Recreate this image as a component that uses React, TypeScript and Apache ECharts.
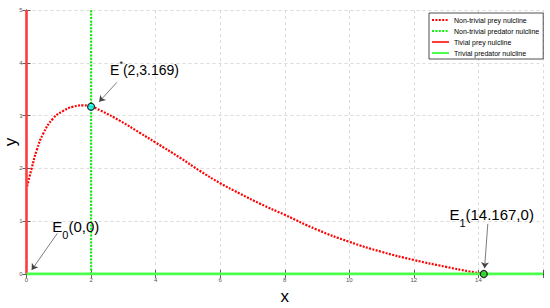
import React, { useEffect, useRef } from "react";
import * as echarts from "echarts";

// Non-trivial prey nullcline
const preyX = [0.02, 0.16, 0.32, 0.52, 0.83, 1.14, 1.45, 1.76, 2.0, 2.28, 2.9, 3.52, 4.0, 4.76, 5.38, 6.0, 6.62, 7.24, 8.0, 9.0, 10, 11, 12, 13, 13.7, 14.167];
const preyY = [1.66, 2.0, 2.35, 2.66, 2.95, 3.09, 3.17, 3.195, 3.169, 3.1, 2.9, 2.67, 2.49, 2.2, 1.95, 1.72, 1.52, 1.33, 1.12, 0.84, 0.61, 0.42, 0.265, 0.135, 0.05, 0];

// Non-trivial predator nullcline x = 2
const predX = [2, 2];
const predY = [0, 5];
// Trivial prey nullcline x = 0
const trivPreyX = [0, 0];
const trivPreyY = [0, 5];
// Trivial predator nullcline y = 0
const trivPredX = [0, 16];
const trivPredY = [0, 0];

// Equilibria markers
const eqX = [2, 14.167];
const eqY = [3.169, 0];
const eqColors = ["#00ffff", "#22cc22"];

// Annotation texts and arrows
const labelTexts = ["{m|E}{sup|*}{m|(2,3.169)}", "{m|E}{sub|0}{m|(0,0)}", "{m|E}{sub|1}{m|(14.167,0)}"];
const labelX = [2.59, 0.8, 13.1];
const labelY = [3.86, 0.905, 1.123];
const arrowFromX = [2.8, 0.955, 14.29];
const arrowFromY = [3.63, 0.77, 0.95];
const arrowToX = [2.25, 0.16, 14.19];
const arrowToY = [3.26, 0.076, 0.11];

const legendNames = ["Non-trivial prey nulcline", "Non-trivial predator nulcline", "Tivial prey nulcline", "Trivial predator nulcline"];
const seriesColors = ["#ff0000", "#11ee11", "#ff3b3b", "#4dff4d"];

const FONT = "'Liberation Sans', Arial, Helvetica, sans-serif";

const zip = (xs: number[], ys: number[]) => xs.map((x, i) => [x, ys[i]]);

export default function App() {
  const ref = useRef<HTMLDivElement>(null);
  useEffect(() => {
    if (!ref.current) return;
    const chart = echarts.init(ref.current, undefined, { renderer: "svg" });
    const gridLine = { show: true, lineStyle: { color: "#d2d2d2", type: [3, 3], width: 0.8 } };
    const axisLineStyle = { show: true, lineStyle: { color: "#222", width: 0.8 } };
    const tick = { show: true, inside: true, length: 4, lineStyle: { color: "#333", width: 0.8 } };
    const option: any = {
      animation: false,
      backgroundColor: "#fff",
      grid: { left: 26.5, right: 7, top: 10, bottom: 34, containLabel: false, outerBoundsMode: "none" },
      xAxis: [
        {
          type: "value", min: 0, max: 16, interval: 2, position: "bottom",
          axisLine: axisLineStyle, axisTick: tick,
          axisLabel: { fontSize: 6, color: "#555", margin: 3, fontFamily: FONT, formatter: (v: number) => (v === 16 ? "" : String(v)) },
          splitLine: gridLine,
          name: "x", nameLocation: "middle", nameGap: 12,
          nameTextStyle: { fontSize: 17, fontFamily: FONT, color: "#000" },
        },
        {
          type: "value", min: 0, max: 16, interval: 2, position: "top",
          axisLine: axisLineStyle, axisTick: tick, axisLabel: { show: false }, splitLine: { show: false },
        },
      ],
      yAxis: [
        {
          type: "value", min: 0, max: 5, interval: 1, position: "left",
          axisLine: axisLineStyle, axisTick: tick,
          axisLabel: { fontSize: 6, color: "#555", margin: 4, fontFamily: FONT },
          splitLine: gridLine,
          name: "y", nameLocation: "middle", nameGap: 8, nameMoveOverlap: false,
          nameTextStyle: { fontSize: 17, fontFamily: FONT, color: "#000" },
        },
        {
          type: "value", min: 0, max: 5, interval: 1, position: "right",
          axisLine: axisLineStyle, axisTick: tick, axisLabel: { show: false }, splitLine: { show: false },
        },
      ],
      legend: {
        data: legendNames,
        orient: "vertical",
        left: 429, top: 13,
        itemWidth: 17, itemHeight: 8, itemGap: 3,
        padding: [3, 4, 2, 2],
        borderColor: "#222", borderWidth: 0.8, backgroundColor: "#fff",
        itemStyle: { opacity: 0 },
        textStyle: { fontSize: 7, fontFamily: FONT, color: "#000", lineHeight: 8 },
      },
      series: [
        {
          name: legendNames[0], type: "line", data: zip(preyX, preyY), smooth: true, symbol: "none",
          itemStyle: { color: seriesColors[0] },
          lineStyle: { color: seriesColors[0], width: 2.2, type: [2, 1.4], cap: "butt" }, z: 3,
        },
        {
          name: legendNames[1], type: "line", data: zip(predX, predY), symbol: "none",
          itemStyle: { color: seriesColors[1] },
          lineStyle: { color: seriesColors[1], width: 2.2, type: [2, 1.4], cap: "butt" }, z: 3,
        },
        {
          name: legendNames[2], type: "line", data: zip(trivPreyX, trivPreyY), symbol: "none",
          itemStyle: { color: seriesColors[2] },
          lineStyle: { color: seriesColors[2], width: 2.6, type: "solid" }, z: 4,
        },
        {
          name: legendNames[3], type: "line", data: zip(trivPredX, trivPredY), symbol: "none",
          itemStyle: { color: seriesColors[3] },
          lineStyle: { color: seriesColors[3], width: 2.8, type: "solid" }, z: 4,
        },
        {
          name: "equilibria", type: "scatter", z: 6,
          data: eqX.map((x, i) => ({ value: [x, eqY[i]], itemStyle: { color: eqColors[i] } })),
          symbolSize: 7,
          itemStyle: { borderColor: "#000", borderWidth: 1.2 },
          markLine: {
            silent: true, symbol: ["none", "arrow"], symbolSize: 6, animation: false,
            label: { show: false },
            lineStyle: { color: "#444", width: 0.7, type: "solid" },
            data: arrowFromX.map((x, i) => [
              { coord: [x, arrowFromY[i]] },
              { coord: [arrowToX[i], arrowToY[i]] },
            ]),
          },
        },
      ],
    };
    chart.setOption(option);

    const graphics = labelTexts.map((t, i) => {
      const p = chart.convertToPixel({ gridIndex: 0 }, [labelX[i], labelY[i]]) as number[];
      const isSup = i === 0;
      return {
        type: "text", x: p[0], y: p[1], z: 10,
        style: {
          text: t, align: "left", verticalAlign: "middle",
          fill: "#000",
          rich: {
            m: { fontSize: isSup ? 14 : 15, fontFamily: FONT, fill: "#000", lineHeight: isSup ? 22 : 28 },
            sup: { fontSize: 9, fontFamily: FONT, fill: "#000", lineHeight: 8, verticalAlign: "top" },
            sub: { fontSize: 11, fontFamily: FONT, fill: "#000", lineHeight: 11, verticalAlign: "bottom" },
          },
        },
      };
    });
    chart.setOption({ graphic: graphics });

    return () => chart.dispose();
  }, []);
  return <div ref={ref} style={{ position: "fixed", left: 0, top: 0, width: 550, height: 308 }} />;
}
